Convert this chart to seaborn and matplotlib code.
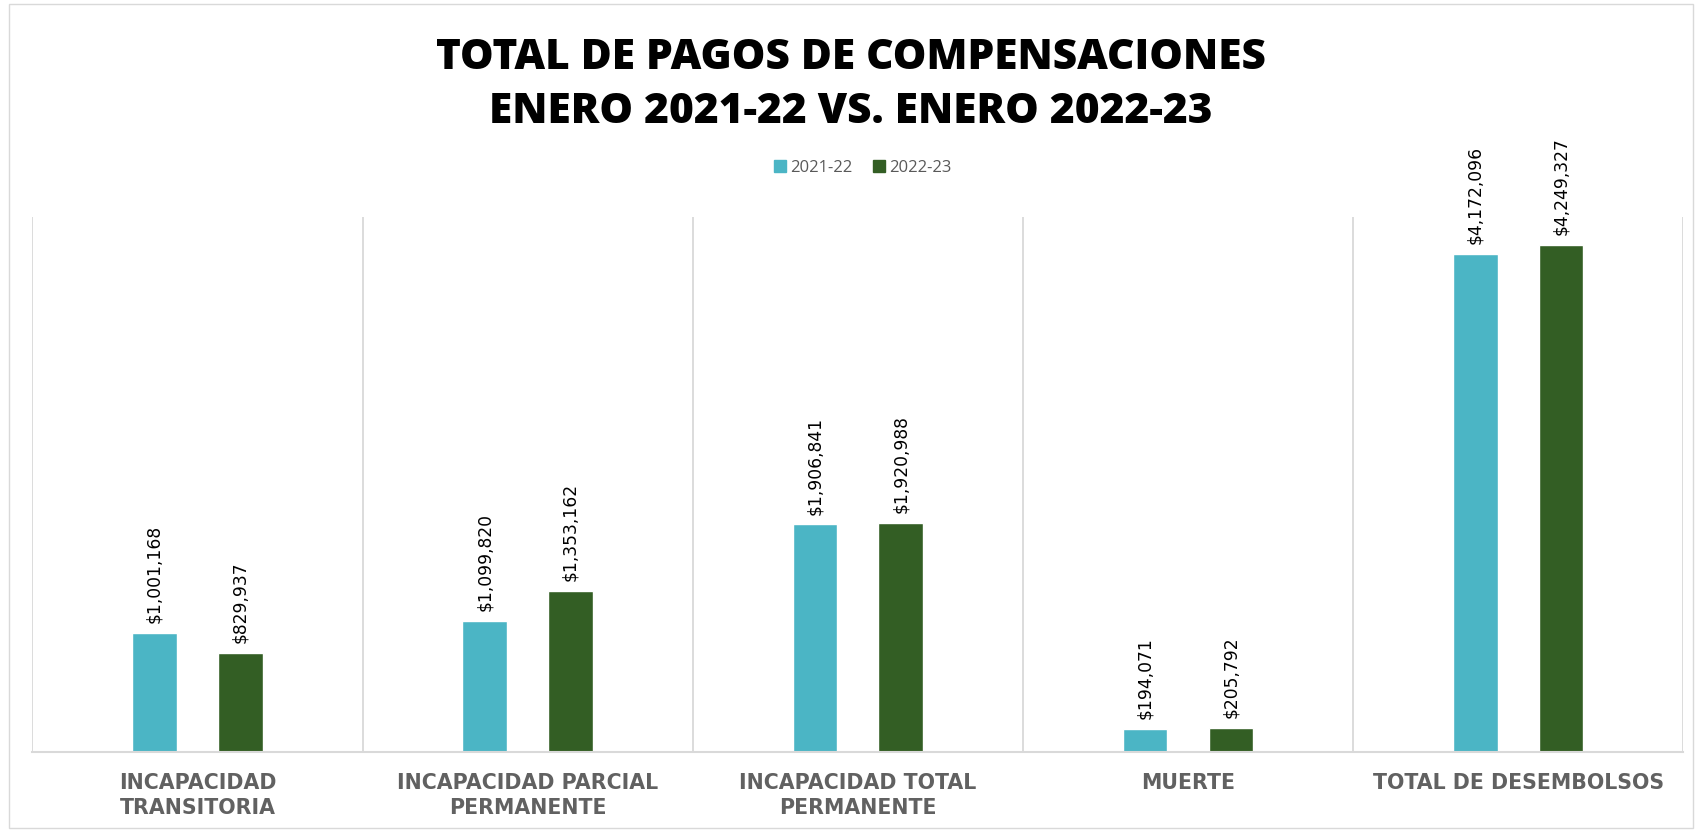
import pandas as pd
import matplotlib.pyplot as plt
import seaborn as sns
from matplotlib.patches import Rectangle
from matplotlib.ticker import MultipleLocator

# ---------------------------
# Data
# ---------------------------
categorias = [
    "INCAPACIDAD\nTRANSITORIA",
    "INCAPACIDAD PARCIAL\nPERMANENTE",
    "INCAPACIDAD TOTAL\nPERMANENTE",
    "MUERTE",
    "TOTAL DE DESEMBOLSOS",
]
periodos = ["2021-22", "2022-23"]
pagos_2021_22 = [1001168, 1099820, 1906841, 194071, 4172096]
pagos_2022_23 = [829937, 1353162, 1920988, 205792, 4249327]

colores = ["#4BB5C5", "#335E24"]

df = pd.DataFrame({
    "categoria": categorias * 2,
    "periodo": [periodos[0]] * len(categorias) + [periodos[1]] * len(categorias),
    "monto": pagos_2021_22 + pagos_2022_23,
})

# ---------------------------
# Plot
# ---------------------------
sns.set_style("white")
plt.rcParams['font.family'] = ['Open Sans', 'DejaVu Sans']

fig = plt.figure(figsize=(17.02, 8.32), dpi=100)
ax = fig.add_axes([0.019, 0.096, 0.970, 0.643])

sns.barplot(data=df, x="categoria", y="monto", hue="periodo",
            palette=colores, saturation=1, width=0.52, gap=0.48,
            errorbar=None, legend=False, ax=ax)

for cont, vals in zip(ax.containers, [pagos_2021_22, pagos_2022_23]):
    ax.bar_label(cont, labels=[f"${v:,.0f}" for v in vals], rotation=90,
                 padding=7, fontsize=12.3, color="#000000",
                 family="DejaVu Sans")

ax.set_xlim(-0.5, 4.5)
ax.set_ylim(0, 4.48e6)
ax.set_xlabel("")
ax.set_ylabel("")
ax.set_yticks([])
ax.xaxis.set_minor_locator(MultipleLocator(1, offset=0.5))
ax.grid(which="minor", axis="x", color="#d9d9d9", linewidth=1.3)
ax.grid(which="major", axis="x", visible=False)
ax.tick_params(axis="x", which="both", length=0, pad=15)
for lbl in ax.get_xticklabels():
    lbl.set_fontsize(14.8)
    lbl.set_fontweight("bold")
    lbl.set_family("DejaVu Sans")
    lbl.set_color("#616161")
    lbl.set_linespacing(1.3)
for s in ["top", "right", "left"]:
    ax.spines[s].set_visible(False)
ax.spines["bottom"].set_color("#d9d9d9")
ax.spines["bottom"].set_linewidth(1.5)

# Title
fig.text(0.5, 0.93, "TOTAL DE PAGOS DE COMPENSACIONES", ha="center", va="center",
         fontsize=30.5, fontweight="heavy", color="#000000")
fig.text(0.5, 0.865, "ENERO 2021-22 VS. ENERO 2022-23", ha="center", va="center",
         fontsize=30.5, fontweight="heavy", color="#000000")

# Legend
handles = [Rectangle((0, 0), 1, 1, color=c) for c in colores]
leg = fig.legend(handles, periodos, loc="center", bbox_to_anchor=(0.507, 0.798),
                 ncol=2, frameon=False, fontsize=12, handlelength=0.7,
                 handleheight=0.7, handletextpad=0.3, columnspacing=1.2)
for t in leg.get_texts():
    t.set_color("#595959")

# outer chart border
fig.patches.append(Rectangle((0.005, 0.005), 0.99, 0.99, transform=fig.transFigure,
                             fill=False, edgecolor="#d9d9d9", linewidth=1))

plt.savefig("out.png", dpi=100)
plt.close()
